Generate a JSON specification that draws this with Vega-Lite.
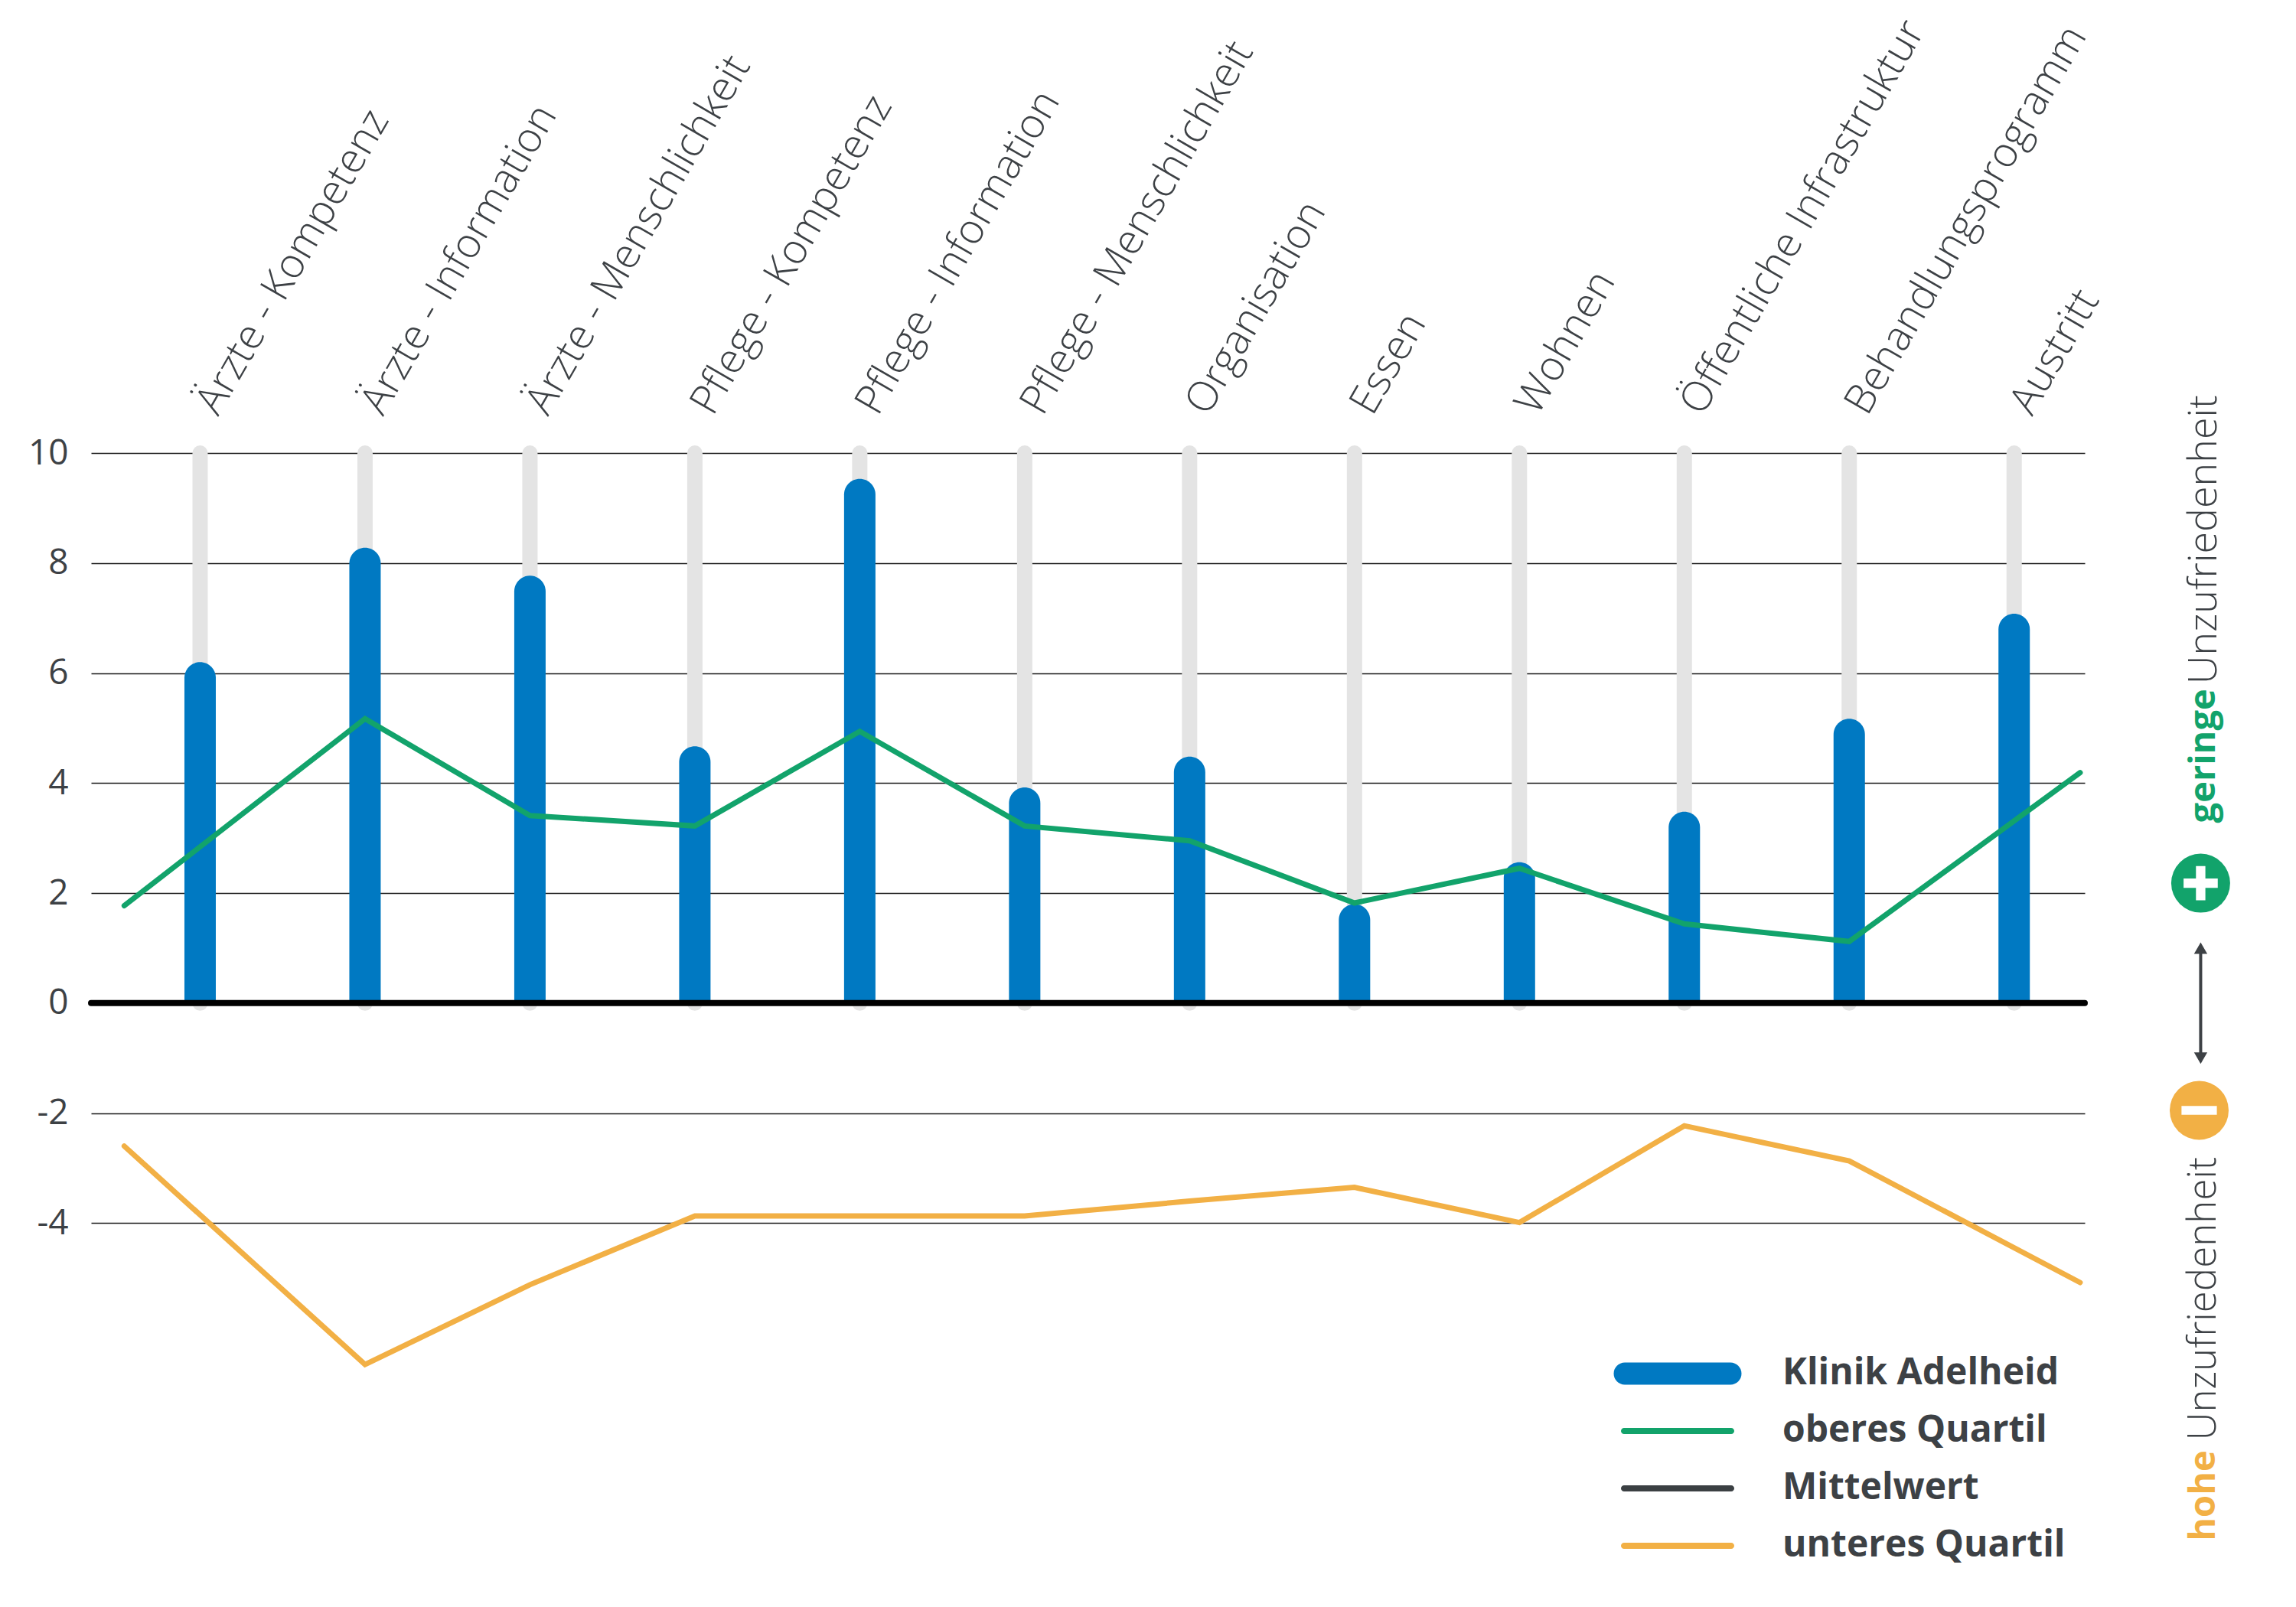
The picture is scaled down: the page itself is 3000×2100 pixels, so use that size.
{
  "$schema": "https://vega.github.io/schema/vega-lite/v6.json",
  "autosize": {"type": "none"},
  "width": 2605,
  "height": 1222,
  "padding": {"left": 119, "top": 592, "right": 276, "bottom": 286},
  "background": "white",
  "config": {
    "view": {"stroke": null},
    "font": "Open Sans"
  },
  "datasets": {
    "kategorien": [
      {"nr": 1, "kategorie": "Ärzte - Kompetenz", "klinik": 6.2},
      {"nr": 2, "kategorie": "Ärzte - Information", "klinik": 8.28},
      {"nr": 3, "kategorie": "Ärzte - Menschlichkeit", "klinik": 7.77},
      {"nr": 4, "kategorie": "Pflege - Kompetenz", "klinik": 4.67},
      {"nr": 5, "kategorie": "Pflege - Information", "klinik": 9.53},
      {"nr": 6, "kategorie": "Pflege - Menschlichkeit", "klinik": 3.92},
      {"nr": 7, "kategorie": "Organisation", "klinik": 4.48},
      {"nr": 8, "kategorie": "Essen", "klinik": 1.8},
      {"nr": 9, "kategorie": "Wohnen", "klinik": 2.56},
      {"nr": 10, "kategorie": "Öffentliche Infrastruktur", "klinik": 3.48},
      {"nr": 11, "kategorie": "Behandlungsprogramm", "klinik": 5.17},
      {"nr": 12, "kategorie": "Austritt", "klinik": 7.08}
    ],
    "oben": [
      {"pos": 0.54, "kategorie": "Ärzte - Kompetenz", "wert": 1.77},
      {"pos": 2, "kategorie": "Ärzte - Information", "wert": 5.17},
      {"pos": 3, "kategorie": "Ärzte - Menschlichkeit", "wert": 3.41},
      {"pos": 4, "kategorie": "Pflege - Kompetenz", "wert": 3.22},
      {"pos": 5, "kategorie": "Pflege - Information", "wert": 4.94},
      {"pos": 6, "kategorie": "Pflege - Menschlichkeit", "wert": 3.22},
      {"pos": 7, "kategorie": "Organisation", "wert": 2.95},
      {"pos": 8, "kategorie": "Essen", "wert": 1.82},
      {"pos": 9, "kategorie": "Wohnen", "wert": 2.45},
      {"pos": 10, "kategorie": "Öffentliche Infrastruktur", "wert": 1.44},
      {"pos": 11, "kategorie": "Behandlungsprogramm", "wert": 1.12},
      {"pos": 12.4, "kategorie": "Austritt", "wert": 4.19}
    ],
    "unten": [
      {"pos": 0.54, "kategorie": "Ärzte - Kompetenz", "wert": -2.6},
      {"pos": 2, "kategorie": "Ärzte - Information", "wert": -6.57},
      {"pos": 3, "kategorie": "Ärzte - Menschlichkeit", "wert": -5.12},
      {"pos": 4, "kategorie": "Pflege - Kompetenz", "wert": -3.87},
      {"pos": 5, "kategorie": "Pflege - Information", "wert": -3.87},
      {"pos": 6, "kategorie": "Pflege - Menschlichkeit", "wert": -3.87},
      {"pos": 7, "kategorie": "Organisation", "wert": -3.6},
      {"pos": 8, "kategorie": "Essen", "wert": -3.35},
      {"pos": 9, "kategorie": "Wohnen", "wert": -3.99},
      {"pos": 10, "kategorie": "Öffentliche Infrastruktur", "wert": -2.23},
      {"pos": 11, "kategorie": "Behandlungsprogramm", "wert": -2.87},
      {"pos": 12.4, "kategorie": "Austritt", "wert": -5.08}
    ]
  },
  "layer": [
    {
      "data": {"name": "kategorien"},
      "mark": {"type": "rule", "color": "#e4e4e4", "strokeWidth": 20, "strokeCap": "round"},
      "encoding": {
        "x": {"field": "nr", "type": "quantitative", "scale": {"domain": [0.362, 12.405], "nice": false, "zero": false}, "axis": null},
        "y": {"datum": 10, "type": "quantitative", "scale": {"domain": [-7, 10], "nice": false, "zero": false},
          "axis": {"values": [-4, -2, 0, 2, 4, 6, 8, 10], "labelExpr": "datum.value < 0 ? '-' + abs(datum.value) : '' + datum.value", "grid": true, "gridColor": "#1a1a1a", "gridWidth": 1.6, "domain": false, "ticks": false, "labelFont": "Open Sans", "labelFontSize": 46, "labelColor": "#3d4145", "labelPadding": 30, "title": null}},
        "y2": {"datum": 0}
      }
    },
    {
      "data": {"name": "kategorien"},
      "mark": {"type": "bar", "width": 41, "cornerRadiusTopLeft": 20.5, "cornerRadiusTopRight": 20.5},
      "encoding": {
        "x": {"field": "nr", "type": "quantitative"},
        "y": {"field": "klinik", "type": "quantitative", "title": null, "stack": null},
        "y2": {"datum": 0},
        "color": {"datum": "Klinik Adelheid", "type": "nominal",
          "scale": {"domain": ["Klinik Adelheid", "oberes Quartil", "Mittelwert", "unteres Quartil"], "range": ["#0079c2", "#12a36b", "#3b4043", "#f2b045"]},
          "legend": {"orient": "none", "legendX": 2048, "legendY": 1178, "title": null, "symbolSize": 2500, "symbolStrokeWidth": 0, "rowPadding": 26, "labelOffset": 112, "labelLimit": 1000, "labelFont": "Open Sans", "labelFontSize": 48, "labelFontWeight": "bold", "labelColor": "#3d4145", "padding": 0,
            "encode": {"symbols": {"update": {
              "shape": {"signal": "datum.value === 'Klinik Adelheid' ? 'M -2.76 -0.58 L 2.76 -0.58 A 0.58 0.58 0 0 1 2.76 0.58 L -2.76 0.58 A 0.58 0.58 0 0 1 -2.76 -0.58 Z' : 'M -2.8 -0.16 L 2.8 -0.16 A 0.16 0.16 0 0 1 2.8 0.16 L -2.8 0.16 A 0.16 0.16 0 0 1 -2.8 -0.16 Z'"},
              "size": {"value": 2500},
              "fill": {"scale": "color", "field": "value"},
              "stroke": {"value": "transparent"},
              "strokeWidth": {"value": 0},
              "opacity": {"value": 1}}}}}
        }
      }
    },
    {
      "data": {"name": "oben"},
      "mark": {"type": "line", "strokeWidth": 7, "strokeCap": "round"},
      "encoding": {
        "x": {"field": "pos", "type": "quantitative"},
        "y": {"field": "wert", "type": "quantitative", "title": null},
        "color": {"datum": "oberes Quartil", "type": "nominal"}
      }
    },
    {
      "data": {"name": "unten"},
      "mark": {"type": "line", "strokeWidth": 7, "strokeCap": "round"},
      "encoding": {
        "x": {"field": "pos", "type": "quantitative"},
        "y": {"field": "wert", "type": "quantitative", "title": null},
        "color": {"datum": "unteres Quartil", "type": "nominal"}
      }
    },
    {
      "data": {"values": [{"linie": "Mittelwert"}]},
      "mark": {"type": "rule", "color": "#000000", "strokeWidth": 8, "strokeCap": "round"},
      "encoding": {
        "y": {"datum": 0, "type": "quantitative"}
      }
    },
    {
      "data": {"name": "kategorien"},
      "mark": {"type": "text", "angle": -60, "align": "left", "baseline": "alphabetic", "font": "Open Sans", "fontWeight": 300, "fontSize": 54, "color": "#3d4145", "dx": 9, "dy": 22},
      "encoding": {
        "x": {"field": "nr", "type": "quantitative"},
        "y": {"datum": 10.7, "type": "quantitative"},
        "text": {"field": "kategorie"}
      }
    },
    {
      "data": {"values": [{"t": "geringe"}]},
      "mark": {"type": "text", "angle": -90, "align": "left", "baseline": "middle", "font": "Open Sans", "fontWeight": "bold", "fontSize": 47, "color": "#12a36b"},
      "encoding": {
        "x": {"datum": 13.154, "type": "quantitative"},
        "y": {"datum": 3.275, "type": "quantitative"},
        "text": {"field": "t"}
      }
    },
    {
      "data": {"values": [{"t": "Unzufriedenheit"}]},
      "mark": {"type": "text", "angle": -90, "align": "left", "baseline": "middle", "font": "Open Sans", "fontWeight": 300, "fontSize": 52, "color": "#3d4145"},
      "encoding": {
        "x": {"datum": 13.154, "type": "quantitative"},
        "y": {"datum": 5.8, "type": "quantitative"},
        "text": {"field": "t"}
      }
    },
    {
      "data": {"values": [{"t": "hohe"}]},
      "mark": {"type": "text", "angle": -90, "align": "left", "baseline": "middle", "font": "Open Sans", "fontWeight": "bold", "fontSize": 47, "color": "#f2b045"},
      "encoding": {
        "x": {"datum": 13.154, "type": "quantitative"},
        "y": {"datum": -9.78, "type": "quantitative"},
        "text": {"field": "t"}
      }
    },
    {
      "data": {"values": [{"t": "Unzufriedenheit"}]},
      "mark": {"type": "text", "angle": -90, "align": "left", "baseline": "middle", "font": "Open Sans", "fontWeight": 300, "fontSize": 51, "color": "#3d4145"},
      "encoding": {
        "x": {"datum": 13.154, "type": "quantitative"},
        "y": {"datum": -7.95, "type": "quantitative"},
        "text": {"field": "t"}
      }
    },
    {
      "data": {"values": [{"symbol": "plus"}]},
      "mark": {"type": "point", "shape": "circle", "filled": true, "size": 5929, "color": "#12a36b", "opacity": 1},
      "encoding": {
        "x": {"datum": 13.131, "type": "quantitative"},
        "y": {"datum": 2.18, "type": "quantitative"}
      }
    },
    {
      "data": {"values": [{"symbol": "plus"}]},
      "mark": {"type": "point", "shape": "M -0.16 -0.58 L 0.16 -0.58 L 0.16 -0.16 L 0.58 -0.16 L 0.58 0.16 L 0.16 0.16 L 0.16 0.58 L -0.16 0.58 L -0.16 0.16 L -0.58 0.16 L -0.58 -0.16 L -0.16 -0.16 Z", "filled": true, "size": 5929, "color": "#ffffff", "opacity": 1},
      "encoding": {
        "x": {"datum": 13.131, "type": "quantitative"},
        "y": {"datum": 2.18, "type": "quantitative"}
      }
    },
    {
      "data": {"values": [{"symbol": "minus"}]},
      "mark": {"type": "point", "shape": "circle", "filled": true, "size": 5929, "color": "#f2b045", "opacity": 1},
      "encoding": {
        "x": {"datum": 13.122, "type": "quantitative"},
        "y": {"datum": -1.95, "type": "quantitative"}
      }
    },
    {
      "data": {"values": [{"symbol": "minus"}]},
      "mark": {"type": "point", "shape": "M -0.6 -0.15 L 0.6 -0.15 L 0.6 0.15 L -0.6 0.15 Z", "filled": true, "size": 5929, "color": "#ffffff", "opacity": 1},
      "encoding": {
        "x": {"datum": 13.122, "type": "quantitative"},
        "y": {"datum": -1.95, "type": "quantitative"}
      }
    },
    {
      "data": {"values": [{"symbol": "pfeil"}]},
      "mark": {"type": "rule", "color": "#3d4145", "strokeWidth": 4},
      "encoding": {
        "x": {"datum": 13.131, "type": "quantitative"},
        "y": {"datum": 1.0, "type": "quantitative"},
        "y2": {"datum": -1.0}
      }
    },
    {
      "data": {"values": [{"symbol": "pfeil"}]},
      "mark": {"type": "point", "shape": "triangle-up", "filled": true, "size": 300, "color": "#3d4145", "opacity": 1},
      "encoding": {
        "x": {"datum": 13.131, "type": "quantitative"},
        "y": {"datum": 1.0, "type": "quantitative"}
      }
    },
    {
      "data": {"values": [{"symbol": "pfeil"}]},
      "mark": {"type": "point", "shape": "triangle-down", "filled": true, "size": 300, "color": "#3d4145", "opacity": 1},
      "encoding": {
        "x": {"datum": 13.131, "type": "quantitative"},
        "y": {"datum": -1.0, "type": "quantitative"}
      }
    }
  ]
}
